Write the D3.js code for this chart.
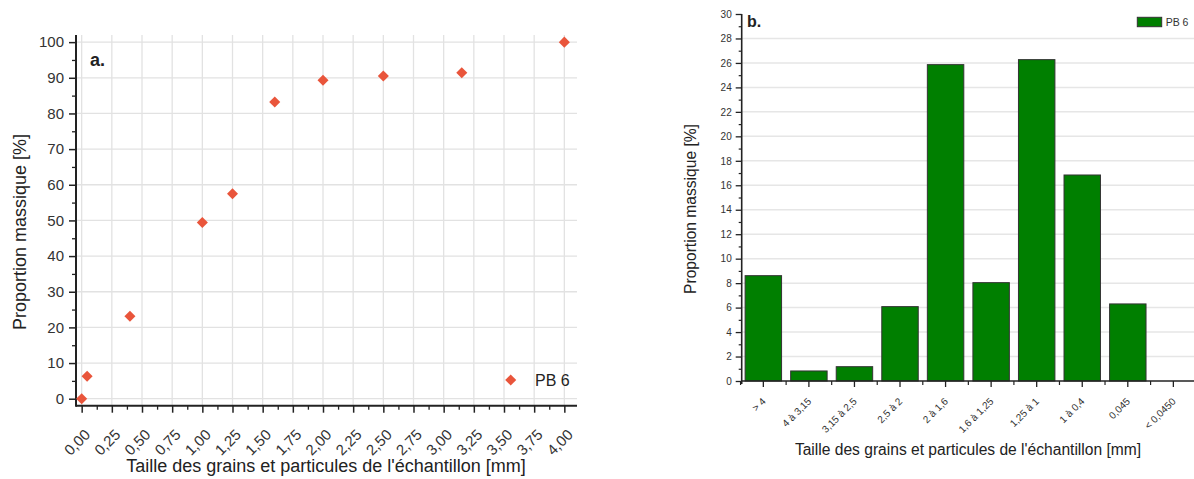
<!DOCTYPE html>
<html>
<head>
<meta charset="utf-8">
<script src="https://cdn.jsdelivr.net/npm/d3@7"></script>
<style>
  html, body { margin: 0; padding: 0; background: #fff; }
  svg { display: block; font-family: "Liberation Sans", Arial, sans-serif; }
</style>
</head>
<body>
<svg id="chart" width="1194" height="479"></svg>
<script>
// ---------- Data: chart a (cumulative) ----------
const sizesMm = [0, 0.045, 0.4, 1.0, 1.25, 1.6, 2.0, 2.5, 3.15, 4.0];
const cumulativePct = [0, 6.3, 23.1, 49.4, 57.5, 83.2, 89.3, 90.5, 91.4, 100];
const xTicksA = [0, 0.25, 0.5, 0.75, 1, 1.25, 1.5, 1.75, 2, 2.25, 2.5, 2.75, 3, 3.25, 3.5, 3.75, 4];
const yTicksA = [0, 10, 20, 30, 40, 50, 60, 70, 80, 90, 100];

// ---------- Data: chart b (histogram) ----------
const classes = ["> 4", "4 à 3,15", "3,15 à 2,5", "2,5 à 2", "2 à 1,6", "1,6 à 1,25", "1,25 à 1", "1 à 0,4", "0,045", "< 0,0450"];
const classPct = [8.61, 0.82, 1.17, 6.08, 25.86, 8.04, 26.27, 16.84, 6.30, 0];
const yTicksB = [0, 2, 4, 6, 8, 10, 12, 14, 16, 18, 20, 22, 24, 26, 28, 30];

const seriesName = "PB 6";
const xTitle = "Taille des grains et particules de l'échantillon [mm]";
const yTitle = "Proportion massique [%]";

const svg = d3.select("#chart");
const fmtA = d3.format(".2f");
const comma = s => s.replace(".", ",");

// ================= Chart a =================
{
  const left = 76, right = 577, top = 35, bottom = 405.7;
  const x = d3.scaleLinear().domain([-0.047, 4.105]).range([left, right]);
  const y = d3.scaleLinear().domain([-1.96, 102]).range([bottom, top]);
  const g = svg.append("g");

  // grid
  g.append("g").selectAll("line").data(xTicksA).join("line")
    .attr("x1", d => x(d)).attr("x2", d => x(d))
    .attr("y1", top).attr("y2", bottom)
    .attr("stroke", "#e2e2e2").attr("stroke-width", 1.3);
  g.append("g").selectAll("line").data(yTicksA).join("line")
    .attr("x1", left).attr("x2", right)
    .attr("y1", d => y(d)).attr("y2", d => y(d))
    .attr("stroke", "#e2e2e2").attr("stroke-width", 1.3);

  // minor ticks
  const xMinor = xTicksA.slice(0, -1).map(d => d + 0.125);
  const yMinor = yTicksA.slice(0, -1).map(d => d + 5);
  g.append("g").attr("transform", `translate(0,${bottom})`)
    .call(d3.axisBottom(x).tickValues(xMinor).tickSize(4).tickFormat(""))
    .call(a => a.select(".domain").remove())
    .call(a => a.selectAll("line").attr("stroke", "#222").attr("stroke-width", 1.3));
  g.append("g").attr("transform", `translate(${left},0)`)
    .call(d3.axisLeft(y).tickValues(yMinor).tickSize(4).tickFormat(""))
    .call(a => a.select(".domain").remove())
    .call(a => a.selectAll("line").attr("stroke", "#222").attr("stroke-width", 1.3));

  // major axes
  const xa = g.append("g").attr("transform", `translate(0,${bottom})`)
    .call(d3.axisBottom(x).tickValues(xTicksA).tickSize(7).tickFormat(d => comma(fmtA(d))));
  xa.select(".domain").remove();
  xa.selectAll("line").attr("stroke", "#222").attr("stroke-width", 1.5);
  xa.selectAll("text")
    .attr("font-size", 15).attr("fill", "#333")
    .attr("text-anchor", "end")
    .attr("dy", 0).attr("y", 0)
    .attr("transform", "translate(9,30) rotate(-45)");

  const ya = g.append("g").attr("transform", `translate(${left},0)`)
    .call(d3.axisLeft(y).tickValues(yTicksA).tickSize(7).tickPadding(5));
  ya.select(".domain").remove();
  ya.selectAll("line").attr("stroke", "#222").attr("stroke-width", 1.5);
  ya.selectAll("text").attr("font-size", 15).attr("fill", "#333");

  // axis lines
  g.append("line").attr("x1", left).attr("x2", right).attr("y1", bottom).attr("y2", bottom)
    .attr("stroke", "#222").attr("stroke-width", 2);
  g.append("line").attr("x1", left).attr("x2", left).attr("y1", top).attr("y2", bottom + 1)
    .attr("stroke", "#222").attr("stroke-width", 2);

  // points
  const diamond = d3.symbol().type(d3.symbolDiamond2).size(78);
  g.append("g").selectAll("path").data(sizesMm).join("path")
    .attr("d", diamond)
    .attr("transform", (d, i) => `translate(${x(d)},${y(cumulativePct[i])})`)
    .attr("fill", "#e9553b");

  // panel label
  g.append("text").attr("x", 90).attr("y", 66).attr("font-size", 18).attr("font-weight", "bold")
    .attr("fill", "#222").text("a.");

  // legend
  g.append("path").attr("d", diamond).attr("transform", "translate(510.7,380)").attr("fill", "#e9553b");
  g.append("text").attr("x", 535).attr("y", 386).attr("font-size", 16).attr("fill", "#222").text(seriesName);

  // titles
  g.append("text").attr("x", 326).attr("y", 472).attr("text-anchor", "middle")
    .attr("font-size", 18).attr("fill", "#222").text(xTitle);
  g.append("text").attr("transform", "translate(26,232) rotate(-90)").attr("text-anchor", "middle")
    .attr("font-size", 18).attr("fill", "#222").text(yTitle);
}

// ================= Chart b =================
{
  const left = 741.7, right = 1195, top = 14, bottom = 381;
  const x = d3.scaleBand().domain(classes).range([left, right]).paddingInner(0.2).paddingOuter(0.075);
  const y = d3.scaleLinear().domain([0, 30]).range([bottom, top]);
  const g = svg.append("g");
  const step = x.step();

  // grid
  g.append("g").selectAll("line").data(yTicksB.filter(d => d > 0 && d < 30)).join("line")
    .attr("x1", left).attr("x2", 1194)
    .attr("y1", d => y(d)).attr("y2", d => y(d))
    .attr("stroke", "#e6e6e6").attr("stroke-width", 1.5);

  // bars
  g.append("g").selectAll("rect").data(classes).join("rect")
    .attr("x", d => x(d)).attr("width", x.bandwidth())
    .attr("y", (d, i) => y(classPct[i]))
    .attr("height", (d, i) => y(0) - y(classPct[i]))
    .attr("fill", "#007f00").attr("stroke", "#333").attr("stroke-width", 1);

  // minor ticks
  const yMinor = yTicksB.slice(0, -1).map(d => d + 1);
  g.append("g").attr("transform", `translate(${left},0)`)
    .call(d3.axisLeft(y).tickValues(yMinor).tickSize(3).tickFormat(""))
    .call(a => a.select(".domain").remove())
    .call(a => a.selectAll("line").attr("stroke", "#222").attr("stroke-width", 1.2));
  const bounds = classes.map(c => x(c) + x.bandwidth() / 2 - step / 2);
  g.append("g").selectAll("line").data(bounds).join("line")
    .attr("x1", d => d).attr("x2", d => d).attr("y1", bottom).attr("y2", bottom + 4)
    .attr("stroke", "#222").attr("stroke-width", 1.2);

  // major axes
  const xa = g.append("g").attr("transform", `translate(0,${bottom})`)
    .call(d3.axisBottom(x).tickSize(6));
  xa.select(".domain").remove();
  xa.selectAll("line").attr("stroke", "#222").attr("stroke-width", 1.3);
  xa.selectAll("text")
    .attr("font-size", 10).attr("fill", "#333")
    .attr("text-anchor", "end")
    .attr("dy", 0).attr("y", 0)
    .attr("transform", "translate(3,21) rotate(-45)");

  const ya = g.append("g").attr("transform", `translate(${left},0)`)
    .call(d3.axisLeft(y).tickValues(yTicksB).tickSize(6).tickPadding(4));
  ya.select(".domain").remove();
  ya.selectAll("line").attr("stroke", "#222").attr("stroke-width", 1.3);
  ya.selectAll("text").attr("font-size", 10).attr("fill", "#333");

  // axis lines
  g.append("line").attr("x1", left).attr("x2", 1194).attr("y1", bottom).attr("y2", bottom)
    .attr("stroke", "#222").attr("stroke-width", 1.6);
  g.append("line").attr("x1", left).attr("x2", left).attr("y1", top).attr("y2", bottom + 3)
    .attr("stroke", "#222").attr("stroke-width", 1.6);

  // panel label
  g.append("text").attr("x", 747).attr("y", 26.5).attr("font-size", 16).attr("font-weight", "bold")
    .attr("fill", "#222").text("b.");

  // legend
  g.append("rect").attr("x", 1137.3).attr("y", 17.3).attr("width", 24.4).attr("height", 9.4)
    .attr("fill", "#007f00").attr("stroke", "#333").attr("stroke-width", 1);
  g.append("text").attr("x", 1165.7).attr("y", 26).attr("font-size", 10.5).attr("fill", "#333").text(seriesName);

  // titles
  g.append("text").attr("x", 968).attr("y", 455).attr("text-anchor", "middle")
    .attr("font-size", 15.6).attr("fill", "#222").text(xTitle);
  g.append("text").attr("transform", "translate(696,209) rotate(-90)").attr("text-anchor", "middle")
    .attr("font-size", 15.6).attr("fill", "#222").text(yTitle);
}
</script>
</body>
</html>
